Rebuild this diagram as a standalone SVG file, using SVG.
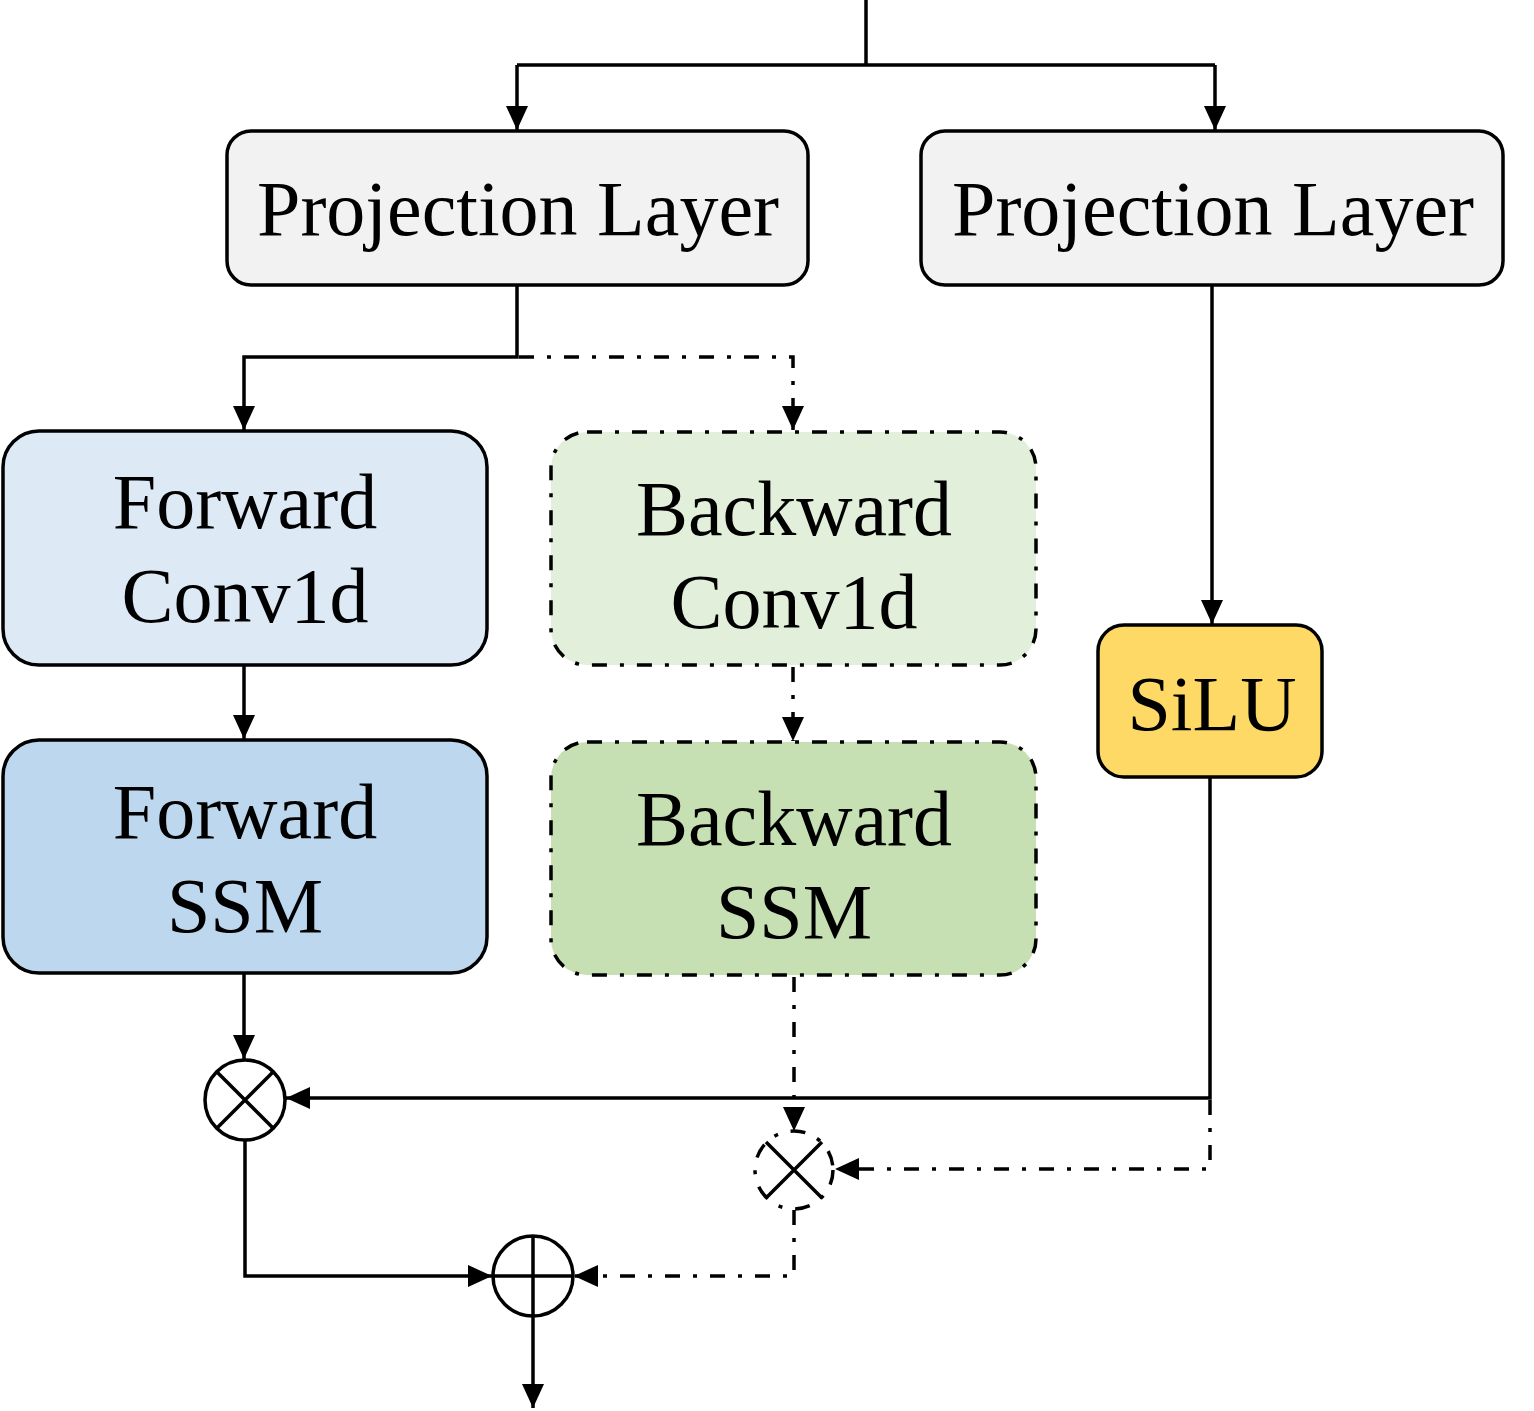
<svg xmlns="http://www.w3.org/2000/svg" width="1534" height="1411" viewBox="0 0 1534 1411">
<style>
.box{stroke:#000;stroke-width:3.5}
.dd{stroke-dasharray:15 13 4 13}
.t{font-family:"Liberation Serif","Times New Roman",serif;font-size:78px;fill:#000;text-anchor:middle}
.ln{fill:none;stroke:#000;stroke-width:3.5}
.op{fill:#fff;stroke:#000;stroke-width:3.5}
</style>
<defs>
<marker id="ah" viewBox="0 0 24 24" refX="24" refY="12" markerWidth="24" markerHeight="24" markerUnits="userSpaceOnUse" orient="auto">
<path d="M0,1 L24,12 L0,23 Z" fill="#000"/>
</marker>
</defs>
<rect width="1534" height="1411" fill="#fff"/>
<g id="connectors">
<path class="ln" d="M866,0 V65 M517,65 H1215"/>
<path class="ln" d="M517,65 V130" marker-end="url(#ah)"/>
<path class="ln" d="M1215,65 V130" marker-end="url(#ah)"/>
<path class="ln" d="M517,286 V357 H244 V430" marker-end="url(#ah)"/>
<path class="ln dd" d="M519,357 H793 V430" marker-end="url(#ah)"/>
<path class="ln" d="M244,666 V739" marker-end="url(#ah)"/>
<path class="ln dd" d="M793,667 V741" marker-end="url(#ah)"/>
<path class="ln" d="M1212,286 V624" marker-end="url(#ah)"/>
<path class="ln" d="M244,974 V1059" marker-end="url(#ah)"/>
<path class="ln dd" d="M794,977 V1131" marker-end="url(#ah)"/>
<path class="ln" d="M1210,778 V1098 H286" marker-end="url(#ah)"/>
<path class="ln dd" d="M1210,1100 V1169 H835" marker-end="url(#ah)"/>
<path class="ln" d="M245,1140 V1276 H492" marker-end="url(#ah)"/>
<path class="ln dd" d="M794,1210 V1276 H574" marker-end="url(#ah)"/>
<path class="ln" d="M533,1316 V1408" marker-end="url(#ah)"/>
</g>
<g id="proj1">
<rect class="box" x="227" y="131" width="581" height="154" rx="24" fill="#f2f2f2"/>
<text class="t" x="518" y="235">Projection Layer</text>
</g>
<g id="proj2">
<rect class="box" x="921" y="131" width="582" height="154" rx="24" fill="#f2f2f2"/>
<text class="t" x="1213" y="235">Projection Layer</text>
</g>
<g id="fconv">
<rect class="box" x="3" y="431" width="484" height="234" rx="36" fill="#ddeaf6"/>
<text class="t" x="245" y="528">Forward</text>
<text class="t" x="245" y="622">Conv1d</text>
</g>
<g id="fssm">
<rect class="box" x="3" y="740" width="484" height="233" rx="36" fill="#bdd7ee"/>
<text class="t" x="245" y="838">Forward</text>
<text class="t" x="245" y="932">SSM</text>
</g>
<g id="bconv">
<rect class="box dd" x="551" y="432" width="485" height="233" rx="36" fill="#e2efda"/>
<text class="t" x="794" y="535">Backward</text>
<text class="t" x="794" y="628">Conv1d</text>
</g>
<g id="bssm">
<rect class="box dd" x="551" y="742" width="485" height="233" rx="36" fill="#c6e0b4"/>
<text class="t" x="794" y="845">Backward</text>
<text class="t" x="794" y="938">SSM</text>
</g>
<g id="silu">
<rect class="box" x="1098" y="625" width="224" height="152" rx="26" fill="#ffd966"/>
<text class="t" x="1212" y="730">SiLU</text>
</g>
<g id="mul1">
<circle class="op" cx="245" cy="1100" r="40"/>
<path class="ln" d="M217,1072 L273,1128 M273,1072 L217,1128"/>
</g>
<g id="mul2">
<circle class="op dd" cx="794" cy="1170" r="39"/>
<path class="ln" d="M766,1142 L822,1198 M822,1142 L766,1198"/>
</g>
<g id="add">
<circle class="op" cx="533" cy="1276" r="40"/>
<path class="ln" d="M493,1276 H573 M533,1236 V1316"/>
</g>
</svg>
